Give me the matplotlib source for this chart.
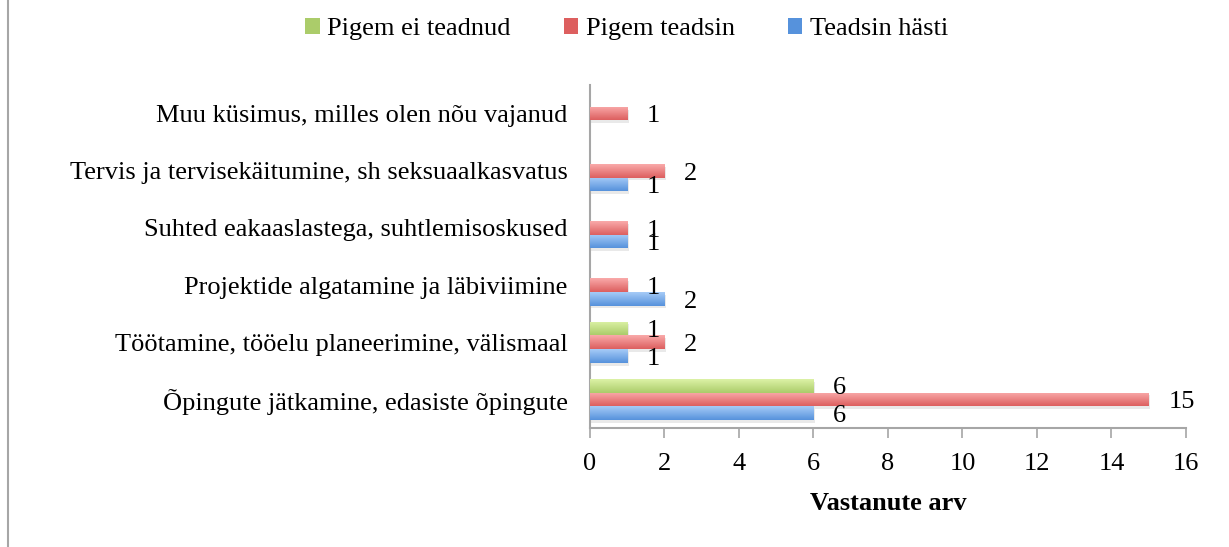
import numpy as np
import matplotlib
matplotlib.use("Agg")
from matplotlib import pyplot as plt
from matplotlib import patheffects as pe
from matplotlib.patches import Patch
from matplotlib.lines import Line2D
from matplotlib.colors import LinearSegmentedColormap

plt.rcParams['font.family'] = ['Liberation Serif', 'DejaVu Serif']

# kategooriad ülevalt alla
categories = [
    "Muu küsimus, milles olen nõu vajanud",
    "Tervis ja tervisekäitumine, sh seksuaalkasvatus",
    "Suhted eakaaslastega, suhtlemisoskused",
    "Projektide algatamine ja läbiviimine",
    "Töötamine, tööelu planeerimine, välismaal",
    "Õpingute jätkamine, edasiste õpingute",
]
teadsin_hasti = [0, 1, 1, 2, 1, 6]
pigem_teadsin = [1, 2, 1, 1, 2, 15]
pigem_ei_teadnud = [0, 0, 0, 0, 1, 6]

series = [
    ("Teadsin hästi", teadsin_hasti, "#a6cbf7", "#5692dc"),
    ("Pigem teadsin", pigem_teadsin, "#f9aaaa", "#dd5f5f"),
    ("Pigem ei teadnud", pigem_ei_teadnud, "#dcf2a6", "#abcc6a"),
]

fs = 19

fig = plt.figure(figsize=(12.29, 5.47), dpi=100)
ax = fig.add_axes([0.480, 0.2176, 0.485, 0.627])

n = len(categories)
ypos = np.arange(n)[::-1]
h = 0.24
offsets = [-h, 0, h]

for (name, vals, top, bot), off in zip(series, offsets):
    bars = ax.barh(ypos + off, vals, height=h, color=bot, zorder=2,
                   path_effects=[pe.SimplePatchShadow(offset=(1.0, -2.0), shadow_rgbFace="#aaaaaa", alpha=0.25),
                                 pe.Normal()])
    cmap = LinearSegmentedColormap.from_list(name, [bot, top])
    grad = np.linspace(0, 1, 64).reshape(-1, 1)
    for b, v in zip(bars, vals):
        if v == 0:
            continue
        x0, y0 = b.get_x(), b.get_y()
        im = ax.imshow(grad, cmap=cmap, aspect="auto", origin="lower",
                       extent=(x0, x0 + b.get_width(), y0, y0 + b.get_height()), zorder=3)
        im.set_clip_path(b)
        ax.annotate(str(v), (v, y0 + h / 2), xytext=(14, -2), textcoords="offset points",
                    ha="left", va="center", fontsize=fs, color="black", zorder=4)

ax.set_xlim(0, 16)
ax.set_ylim(-0.5, n - 0.5)
ax.set_xticks(range(0, 17, 2))
ax.set_yticks(ypos)
ax.set_yticklabels(categories)
ax.tick_params(axis="x", length=7, width=1.2, color="#a6a6a6", labelsize=fs, pad=11)
ax.tick_params(axis="y", length=0, labelsize=fs, pad=16)
for s in ["top", "right"]:
    ax.spines[s].set_visible(False)
for s in ["left", "bottom"]:
    ax.spines[s].set_color("#a6a6a6")
    ax.spines[s].set_linewidth(1.5)
ax.set_xlabel("Vastanute arv", fontsize=fs, fontweight="bold", labelpad=12)

handles = [Patch(facecolor=s[3], edgecolor="none") for s in series[::-1]]
labels = [s[0] for s in series[::-1]]
fig.legend(handles, labels, loc="center", bbox_to_anchor=(0.51, 0.947), ncol=3,
           frameon=False, fontsize=fs, handlelength=0.55, handleheight=0.55,
           handletextpad=0.3, columnspacing=2.0)

fig.add_artist(Line2D([0.0065, 0.0065], [0, 1], transform=fig.transFigure,
                      color="#a6a6a6", linewidth=1.5))

fig.savefig("out.png", dpi=100)
